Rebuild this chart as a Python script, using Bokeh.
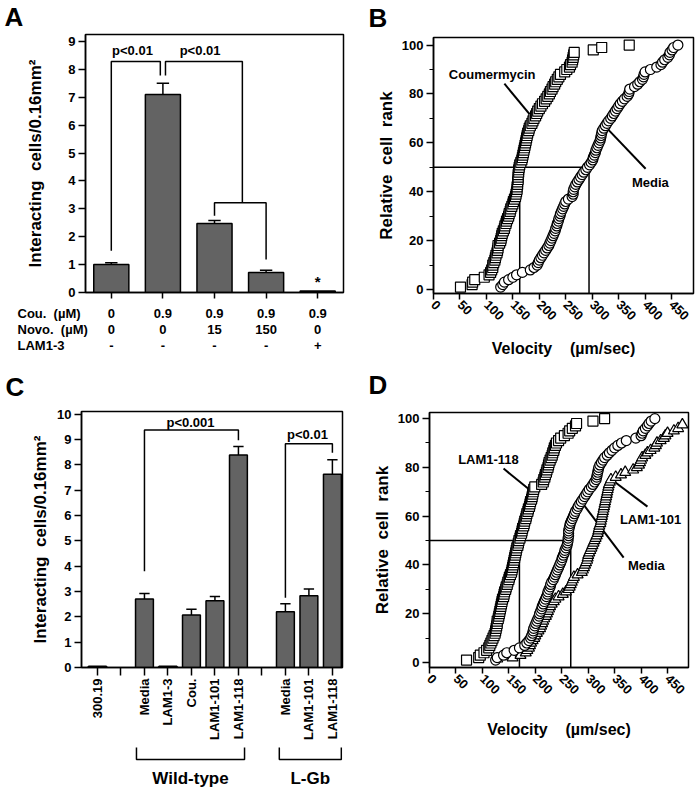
import math
from bokeh.plotting import figure
from bokeh.layouts import column, row
from bokeh.models import Range1d, FixedTicker, SingleIntervalTicker
from bokeh.core.properties import value
from bokeh.embed import file_html
from bokeh.resources import INLINE

FONT = "Liberation Sans"
BAR = "#636363"
SP = "\u00a0 "   # a wide gap that survives SVG whitespace collapsing
LETTER = "26px"

# ---------------- Panel A data ----------------
A_pos = [0, 1, 2, 3, 4]
A_values = [1.0, 7.1, 2.47, 0.72, 0.05]
A_err_top = [1.07, 7.5, 2.58, 0.80, None]
A_cou = ["0", "0.9", "0.9", "0.9", "0.9"]
A_novo = ["0", "0", "15", "150", "0"]
A_lam = ["-", "-", "-", "-", "+"]
A_row_heads = ["Cou." + SP + "(\u00b5M)", "Novo." + SP + "(\u00b5M)", "LAM1-3"]
A_brackets_x = [[0, 0, 0.95, 0.95], [1.05, 1.05, 2.54, 2.54], [2, 2, 3, 3]]
A_brackets_y = [[1.5, 8.28, 8.28, 7.78], [7.78, 8.28, 8.28, 3.22], [2.75, 3.22, 3.22, 1.18]]
A_pvals = ["p<0.01", "p<0.01"]
A_pval_x = [0.41, 1.72]
A_pval_y = [8.67, 8.67]
A_star_x = [4]
A_star_y = [0.38]

# ---------------- Panel C data ----------------
C_tick_pos = [0, 1, 2, 3, 4, 5, 6, 7, 8, 9, 10]
C_labels = ["300.19", "", "Media", "LAM1-3", "Cou.", "LAM1-101", "LAM1-118",
            "", "Media", "LAM1-101", "LAM1-118"]
C_bar_pos = [0, 2, 3, 4, 5, 6, 8, 9, 10]
C_values = [0.05, 2.7, 0.05, 2.07, 2.63, 8.38, 2.2, 2.83, 7.62]
C_err_top = [None, 2.92, None, 2.3, 2.8, 8.72, 2.52, 3.1, 8.2]
C_brackets_x = [[2, 2, 6, 6], [8, 8, 10, 10]]
C_brackets_y = [[3.8, 9.37, 9.37, 8.97], [2.75, 8.83, 8.83, 8.47]]
C_pvals = ["p<0.001", "p<0.01"]
C_pval_x = [3.96, 8.94]
C_pval_y = [9.66, 9.2]
C_groups = ["Wild-type", "L-Gb"]
C_group_start = [1.66, 7.74]
C_group_end = [6.26, 10.38]

# ---------------- Panel B data ----------------
B_cou_vel = [51, 73, 74, 78, 96, 105, 108, 110, 112, 112,
             114, 116, 117, 118, 120, 121, 122, 122, 125, 127,
             128, 129, 130, 132, 134, 135, 137, 138, 140, 142,
             143, 145, 146, 148, 150, 151, 153, 155, 156, 157,
             158, 158, 159, 159, 160, 160, 160, 161, 161, 162,
             163, 165, 167, 168, 169, 170, 171, 172, 173, 174,
             175, 176, 177, 178, 180, 181, 183, 186, 188, 190,
             193, 195, 197, 200, 203, 206, 210, 213, 216, 219,
             221, 224, 226, 229, 231, 234, 237, 240, 248, 252,
             257, 259, 262, 263, 264, 265, 266, 302, 318, 370]
B_cou_rank = [1, 2, 3, 4, 5, 6, 7, 8, 9, 10,
              11, 12, 13, 14, 15, 16, 17, 18, 19, 20,
              21, 22, 23, 24, 25, 26, 27, 28, 29, 30,
              31, 32, 33, 34, 35, 36, 37, 38, 39, 40,
              41, 42, 43, 44, 45, 46, 47, 48, 49, 50,
              51, 52, 53, 54, 55, 56, 57, 58, 59, 60,
              61, 62, 63, 64, 65, 66, 67, 68, 69, 70,
              71, 72, 73, 74, 75, 76, 77, 78, 79, 80,
              81, 82, 83, 84, 85, 86, 87, 88, 89, 90,
              91, 92, 93, 94, 95, 96, 97, 98, 99, 100]
B_med_vel = [127, 131, 134, 142, 150, 157, 168, 183, 190, 196,
             198, 200, 203, 206, 209, 212, 215, 218, 220, 222,
             224, 226, 228, 230, 231, 233, 234, 236, 237, 239,
             240, 242, 244, 246, 248, 250, 255, 262, 264, 264,
             265, 267, 269, 272, 275, 278, 281, 284, 288, 291,
             295, 298, 301, 302, 304, 306, 307, 309, 311, 313,
             315, 316, 317, 318, 319, 322, 325, 328, 331, 335,
             338, 341, 344, 347, 350, 353, 357, 361, 366, 369,
             370, 371, 380, 386, 390, 395, 397, 398, 400, 410,
             422, 430, 433, 437, 443, 446, 447, 451, 454, 462]
B_med_rank = [1, 2, 3, 4, 5, 6, 7, 8, 9, 10,
              11, 12, 13, 14, 15, 16, 17, 18, 19, 20,
              21, 22, 23, 24, 25, 26, 27, 28, 29, 30,
              31, 32, 33, 34, 35, 36, 37, 38, 39, 40,
              41, 42, 43, 44, 45, 46, 47, 48, 49, 50,
              51, 52, 53, 54, 55, 56, 57, 58, 59, 60,
              61, 62, 63, 64, 65, 66, 67, 68, 69, 70,
              71, 72, 73, 74, 75, 76, 77, 78, 79, 80,
              81, 82, 83, 84, 85, 86, 87, 88, 89, 90,
              91, 92, 93, 94, 95, 96, 97, 98, 99, 100]
B_median_cou = 163
B_median_med = 294
B_labels = ["Coumermycin", "Media"]
B_label_x = [111, 410]
B_label_y = [87.8, 43.7]
B_leader_x0 = [134, 401]
B_leader_y0 = [84.2, 49.4]
B_leader_x1 = [187, 329]
B_leader_y1 = [70.3, 65.7]

# ---------------- Panel D data ----------------
D_118_vel = [70, 93, 96, 103, 108, 112, 114, 116, 118, 120,
             122, 124, 125, 126, 127, 128, 128, 130, 131, 132,
             133, 134, 135, 136, 137, 138, 140, 141, 142, 144,
             145, 147, 148, 150, 151, 153, 155, 156, 157, 158,
             159, 160, 161, 162, 163, 164, 165, 167, 168, 169,
             171, 172, 174, 175, 176, 178, 179, 180, 182, 183,
             184, 186, 187, 189, 190, 191, 193, 194, 195, 196,
             197, 199, 212, 215, 216, 218, 219, 221, 222, 224,
             225, 226, 228, 230, 232, 233, 235, 236, 238, 240,
             244, 248, 255, 262, 265, 270, 276, 278, 309, 331]
D_118_rank = [1, 2, 3, 4, 5, 6, 7, 8, 9, 10,
              11, 12, 13, 14, 15, 16, 17, 18, 19, 20,
              21, 22, 23, 24, 25, 26, 27, 28, 29, 30,
              31, 32, 33, 34, 35, 36, 37, 38, 39, 40,
              41, 42, 43, 44, 45, 46, 47, 48, 49, 50,
              51, 52, 53, 54, 55, 56, 57, 58, 59, 60,
              61, 62, 63, 64, 65, 66, 67, 68, 69, 70,
              71, 72, 73, 74, 75, 76, 77, 78, 79, 80,
              81, 82, 83, 84, 85, 86, 87, 88, 89, 90,
              91, 92, 93, 94, 95, 96, 97, 98, 99, 100]
D_med_vel = [125, 128, 140, 146, 160, 170, 180, 184, 188, 191,
             193, 195, 196, 197, 199, 201, 203, 205, 207, 208,
             210, 212, 213, 215, 217, 219, 221, 223, 224, 226,
             228, 229, 231, 234, 236, 238, 240, 242, 244, 246,
             248, 250, 251, 253, 255, 256, 258, 260, 261, 262,
             262, 263, 263, 263, 264, 265, 266, 268, 270, 272,
             274, 276, 279, 281, 284, 287, 290, 293, 296, 299,
             302, 306, 309, 312, 315, 316, 317, 318, 319, 320,
             322, 325, 328, 331, 336, 340, 345, 350, 356, 363,
             372, 390, 400, 402, 404, 408, 412, 415, 419, 426]
D_med_rank = [1, 2, 3, 4, 5, 6, 7, 8, 9, 10,
              11, 12, 13, 14, 15, 16, 17, 18, 19, 20,
              21, 22, 23, 24, 25, 26, 27, 28, 29, 30,
              31, 32, 33, 34, 35, 36, 37, 38, 39, 40,
              41, 42, 43, 44, 45, 46, 47, 48, 49, 50,
              51, 52, 53, 54, 55, 56, 57, 58, 59, 60,
              61, 62, 63, 64, 65, 66, 67, 68, 69, 70,
              71, 72, 73, 74, 75, 76, 77, 78, 79, 80,
              81, 82, 83, 84, 85, 86, 87, 88, 89, 90,
              91, 92, 93, 94, 95, 96, 97, 98, 99, 100]
D_101_vel = [128, 157, 172, 182, 185, 188, 190, 192, 195, 198,
             200, 203, 206, 209, 211, 213, 215, 217, 220, 222,
             224, 226, 228, 231, 235, 238, 244, 252, 258, 263,
             265, 267, 269, 271, 273, 280, 288, 290, 292, 294,
             296, 298, 299, 300, 302, 304, 306, 308, 310, 312,
             314, 316, 318, 319, 320, 321, 323, 324, 325, 326,
             327, 328, 329, 330, 331, 332, 333, 334, 335, 336,
             337, 338, 339, 341, 343, 352, 362, 370, 385, 392,
             396, 398, 400, 402, 408, 412, 418, 425, 428, 430,
             437, 443, 446, 450, 462, 470, 478]
D_101_rank = [1.5, 2, 3, 4, 5, 6, 7, 8, 9, 10,
              11, 12, 13, 14, 15, 16, 17, 18, 19, 20,
              21, 22, 23, 24, 25, 26, 27, 28, 29, 30,
              31, 32, 33, 34, 35, 36, 37, 38, 39, 40,
              41, 42, 43, 44, 45, 46, 47, 48, 49, 50,
              51, 52, 53, 54, 55, 56, 57, 58, 59, 60,
              61, 62, 63, 64, 65, 66, 67, 68, 69, 70,
              71, 72, 73, 74, 75, 76, 77, 78, 79, 80,
              81, 82, 83, 84, 85, 86, 87, 88, 89, 90,
              91, 92, 93, 94, 95, 96, 97.5]
D_median_118 = 170
D_median_med = 267
D_labels = ["LAM1-118", "LAM1-101", "Media"]
D_label_x = [111.5, 418, 410]
D_label_y = [83.2, 58.6, 39.8]
D_leader_x0 = [140, 412, 367]
D_leader_y0 = [79.5, 63.9, 43]
D_leader_x1 = [191, 351.6, 291]
D_leader_y1 = [70.5, 73.8, 64.8]


# ---------------- helpers ----------------
def txt(p, x, y, t, size="13px", align="center", baseline="middle", **kw):
    p.text(x=x, y=y, text=t, text_font=value(FONT), text_font_style="bold",
           text_font_size=value(size), text_align=align, text_baseline=baseline,
           text_color="black", **kw)


def blank(width, height, xr, yr, **kw):
    opts = dict(min_border_left=0, min_border_right=0, min_border_top=0, min_border_bottom=0)
    opts.update(kw)
    p = figure(width=width, height=height, x_range=xr, y_range=yr,
               x_axis_location=None, y_axis_location=None, toolbar_location=None,
               output_backend="svg", outline_line_color=None, frame_align=False, **opts)
    p.grid.visible = False
    p.background_fill_color = "white"
    p.border_fill_color = "white"
    return p


def style(p, minor=False, tick_out=7):
    p.grid.visible = False
    p.outline_line_color = "black"
    p.outline_line_width = 1.5
    p.background_fill_color = "white"
    p.border_fill_color = "white"
    for ax in p.axis:
        ax.axis_line_color = "black"
        ax.axis_line_width = 1.5
        ax.major_tick_line_color = "black"
        ax.major_tick_line_width = 1.5
        ax.major_tick_in = 0
        ax.major_tick_out = tick_out
        ax.minor_tick_in = 0
        ax.minor_tick_out = 4
        ax.minor_tick_line_width = 1.2
        ax.minor_tick_line_color = "black" if minor else None
        ax.major_label_text_font = FONT
        ax.major_label_text_font_style = "bold"
        ax.major_label_text_font_size = "13px"
        ax.major_label_text_color = "black"
        ax.major_label_standoff = 3
        ax.axis_label_text_font = FONT
        ax.axis_label_text_font_style = "bold"
        ax.axis_label_text_font_size = "17px"
        ax.axis_label_text_color = "black"


def bars(p, pos, vals, tops, width, cap):
    p.vbar(x=pos, top=vals, bottom=0, width=width, fill_color=BAR,
           line_color="black", line_width=1.5)
    ex = [x for x, e in zip(pos, tops) if e is not None]
    ev = [v for v, e in zip(vals, tops) if e is not None]
    et = [e for e in tops if e is not None]
    p.segment(x0=ex, y0=ev, x1=ex, y1=et, line_color="black", line_width=1.5)
    p.segment(x0=[x - cap for x in ex], y0=et, x1=[x + cap for x in ex], y1=et,
              line_color="black", line_width=1.5)


LEFT_W, RIGHT_W = 350, 346

# ---------------- Panel A ----------------
A_xr = Range1d(-0.5, 4.5)
A_left, A_frame_w = 85, 258
A_right = LEFT_W - A_left - A_frame_w
pA = figure(width=LEFT_W, height=269, x_range=A_xr, y_range=Range1d(0, 9.25),
            min_border_left=A_left, min_border_right=A_right, min_border_top=1, min_border_bottom=10,
            toolbar_location=None, output_backend="svg", frame_align=False)
bars(pA, A_pos, A_values, A_err_top, 0.68, 0.12)
pA.multi_line(xs=A_brackets_x, ys=A_brackets_y, line_color="black", line_width=1.5)
txt(pA, A_pval_x, A_pval_y, A_pvals)
txt(pA, A_star_x, A_star_y, ["*"], size="15px")
style(pA, tick_out=7)
pA.yaxis.ticker = SingleIntervalTicker(interval=1, num_minor_ticks=0)
pA.yaxis.axis_label = "Interacting" + SP + "cells/0.16mm\u00b2"
pA.yaxis.axis_label_standoff = 20
pA.xaxis.ticker = FixedTicker(ticks=A_pos)
pA.xaxis.major_label_overrides = {i: "" for i in A_pos}
pA.xaxis.major_label_text_font_size = "1px"
pA.xaxis.major_label_standoff = 0
pA.xaxis.major_tick_out = 6

hdrA = blank(LEFT_W, 33, Range1d(0, LEFT_W), Range1d(33, 0))
txt(hdrA, [0], [16.5], ["A"], size=LETTER, align="left", x_offset=4)

scaleA = A_frame_w / (A_xr.end - A_xr.start)
tbl_start = A_xr.start - A_left / scaleA
tblA = blank(LEFT_W, 102, Range1d(tbl_start, A_xr.end + A_right / scaleA), Range1d(102, 0))
row_y = [11, 27, 43]
for vals, yy in zip([A_cou, A_novo, A_lam], row_y):
    txt(tblA, A_pos, [yy] * len(A_pos), vals)
txt(tblA, [tbl_start] * 3, row_y, A_row_heads, align="left", x_offset=17)
txt(tblA, [tbl_start], [84], ["C"], size=LETTER, align="left", x_offset=5)

# ---------------- Panel B ----------------
B_left, B_frame_w = 83, 260
pB = figure(width=RIGHT_W, height=333, x_range=Range1d(0, 491.5), y_range=Range1d(-1.64, 103.1),
            min_border_left=B_left, min_border_right=RIGHT_W - B_left - B_frame_w,
            min_border_top=2, min_border_bottom=75,
            toolbar_location=None, output_backend="svg", frame_align=False)
yb0 = pB.y_range.start
pB.segment(x0=[0, B_median_cou, B_median_med], y0=[50, yb0, yb0],
           x1=[B_median_med, B_median_cou, B_median_med], y1=[50, 50, 50],
           line_color="black", line_width=1.5)
pB.segment(x0=B_leader_x0, y0=B_leader_y0, x1=B_leader_x1, y1=B_leader_y1,
           line_color="black", line_width=2)
pB.scatter(B_cou_vel, B_cou_rank, marker="square", size=10, fill_color="white",
           line_color="black", line_width=1.2)
pB.scatter(B_med_vel, B_med_rank, marker="circle", size=10, fill_color="white",
           line_color="black", line_width=1.2)
txt(pB, B_label_x, B_label_y, B_labels)
style(pB, minor=True, tick_out=7)
pB.yaxis.ticker = SingleIntervalTicker(interval=20, num_minor_ticks=2)
pB.xaxis.ticker = SingleIntervalTicker(interval=50, num_minor_ticks=0)
pB.xaxis.major_label_orientation = -math.pi / 4
pB.xaxis.major_tick_out = 6
pB.yaxis.axis_label = "Relative" + SP + "cell" + SP + "rank"
pB.yaxis.axis_label_standoff = 3
pB.xaxis.axis_label = "Velocity" + SP + SP + "(\u00b5m/sec)"
pB.xaxis.axis_label_text_font_size = "16px"
pB.xaxis.axis_label_standoff = 13

hdrB = blank(RIGHT_W, 35, Range1d(0, RIGHT_W), Range1d(35, 0))
txt(hdrB, [0], [17.5], ["B"], size=LETTER, align="left", x_offset=18)
hdrD = blank(RIGHT_W, 36, Range1d(0, RIGHT_W), Range1d(36, 0))
txt(hdrD, [0], [16.5], ["D"], size=LETTER, align="left", x_offset=18)

# ---------------- Panel C ----------------
C_left, C_frame_w = 81, 261
pC = figure(width=LEFT_W, height=341, x_range=Range1d(-0.68, 10.43), y_range=Range1d(0, 10.1),
            min_border_left=C_left, min_border_right=LEFT_W - C_left - C_frame_w,
            min_border_top=7, min_border_bottom=78,
            toolbar_location=None, output_backend="svg", frame_align=False)
bars(pC, C_bar_pos, C_values, C_err_top, 0.76, 0.22)
pC.multi_line(xs=C_brackets_x, ys=C_brackets_y, line_color="black", line_width=1.5)
txt(pC, C_pval_x, C_pval_y, C_pvals)
style(pC, tick_out=7)
pC.yaxis.ticker = SingleIntervalTicker(interval=1, num_minor_ticks=0)
pC.yaxis.axis_label = "Interacting" + SP + "cells/0.16mm\u00b2"
pC.yaxis.axis_label_standoff = 4
pC.xaxis.ticker = FixedTicker(ticks=C_tick_pos)
pC.xaxis.major_label_overrides = {p: lab for p, lab in zip(C_tick_pos, C_labels)}
pC.xaxis.major_label_orientation = math.pi / 2
pC.xaxis.major_tick_out = 8

brkC = blank(LEFT_W, 46, pC.x_range, Range1d(46, 0), min_border_left=C_left,
             min_border_right=LEFT_W - C_left - C_frame_w)
brk_xs = [[s, s, e, e] for s, e in zip(C_group_start, C_group_end)]
brk_ys = [[2, 14, 14, 2] for _ in C_groups]
brkC.multi_line(xs=brk_xs, ys=brk_ys, line_color="black", line_width=1.5)
txt(brkC, [(s + e) / 2 for s, e in zip(C_group_start, C_group_end)], [33] * 2, C_groups,
    size="17px")

# ---------------- Panel D ----------------
D_left, D_frame_w = 79, 259
pD = figure(width=RIGHT_W, height=387, x_range=Range1d(0, 489.6), y_range=Range1d(-2.05, 102.5),
            min_border_left=D_left, min_border_right=RIGHT_W - D_left - D_frame_w,
            min_border_top=8, min_border_bottom=124,
            toolbar_location=None, output_backend="svg", frame_align=False)
yd0 = pD.y_range.start
pD.segment(x0=[0, D_median_118, D_median_med], y0=[50, yd0, yd0],
           x1=[D_median_med, D_median_118, D_median_med], y1=[50, 50, 50],
           line_color="black", line_width=1.5)
pD.segment(x0=D_leader_x0, y0=D_leader_y0, x1=D_leader_x1, y1=D_leader_y1,
           line_color="black", line_width=2)
pD.scatter(D_101_vel, D_101_rank, marker="triangle", size=11, fill_color="white",
           line_color="black", line_width=1.2)
pD.scatter(D_118_vel, D_118_rank, marker="square", size=10, fill_color="white",
           line_color="black", line_width=1.2)
pD.scatter(D_med_vel, D_med_rank, marker="circle", size=10, fill_color="white",
           line_color="black", line_width=1.2)
txt(pD, D_label_x, D_label_y, D_labels)
style(pD, minor=True, tick_out=7)
pD.yaxis.ticker = SingleIntervalTicker(interval=20, num_minor_ticks=2)
pD.xaxis.ticker = SingleIntervalTicker(interval=50, num_minor_ticks=0)
pD.xaxis.major_label_orientation = -math.pi / 4
pD.xaxis.major_tick_out = 6
pD.yaxis.axis_label = "Relative" + SP + "cell" + SP + "rank"
pD.yaxis.axis_label_standoff = 3
pD.xaxis.axis_label = "Velocity" + SP + SP + "(\u00b5m/sec)"
pD.xaxis.axis_label_text_font_size = "16px"
pD.xaxis.axis_label_standoff = 20

# ---------------- layout ----------------
top = row(column(hdrA, pA, tblA), column(hdrB, pB, hdrD))
bottom = row(column(pC, brkC), pD)
layout = column(top, bottom)

open("out.html", "w").write(file_html(layout, INLINE, title="Figure"))
